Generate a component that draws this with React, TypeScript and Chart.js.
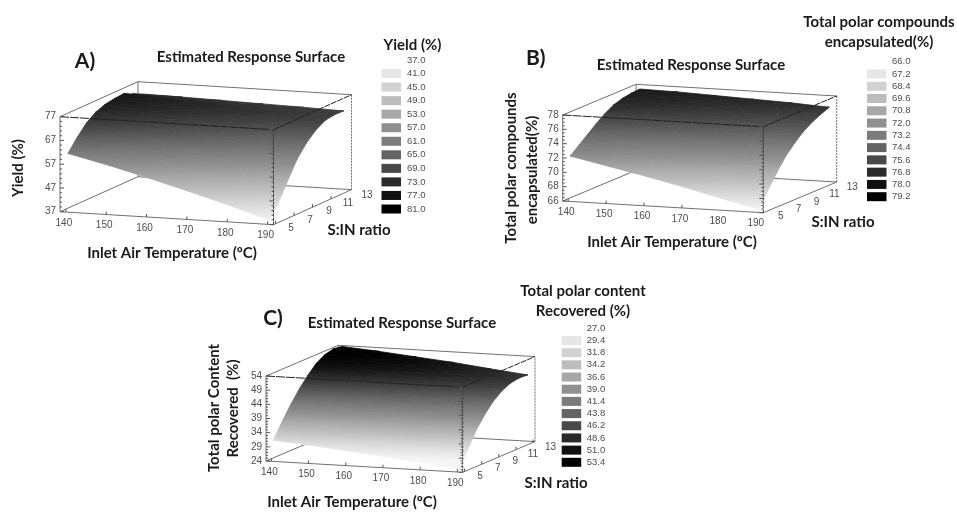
import React, { useEffect, useRef } from "react";
import { Chart, registerables } from "chart.js";

Chart.register(...registerables);

const TEMPS = [140, 150, 160, 170, 180, 190];
const RATIOS = [5, 6, 7, 8, 9, 10, 11, 12, 13];
const RATIO_TICKS = [5, 7, 9, 11, 13];

const YIELD_140 = [61.3, 66.3, 70.6, 73.4, 74.9, 75.6, 75.9, 74.1, 72.4];
const YIELD_150 = [57.4, 62.6, 67.4, 71.0, 73.0, 74.2, 74.9, 73.5, 72.1];
const YIELD_160 = [53.0, 58.5, 63.9, 68.2, 71.0, 72.7, 73.7, 72.8, 71.7];
const YIELD_170 = [48.4, 54.1, 60.2, 65.3, 68.8, 71.1, 72.5, 72.1, 71.3];
const YIELD_180 = [43.6, 49.5, 56.3, 62.3, 66.5, 69.4, 71.3, 71.3, 70.9];
const YIELD_190 = [38.3, 44.5, 52.0, 59.0, 64.0, 67.6, 69.9, 70.5, 70.4];
const YIELD_TICKS = [37, 47, 57, 67, 77];
const YIELD_LEGEND = ["37.0", "41.0", "45.0", "49.0", "53.0", "57.0", "61.0", "65.0", "69.0", "73.0", "77.0", "81.0"];

const ENC_140 = [72.2, 73.2, 74.2, 75.2, 76.1, 76.8, 77.2, 77.4, 77.5];
const ENC_150 = [71.1, 72.4, 73.5, 74.7, 75.6, 76.4, 76.9, 77.2, 77.4];
const ENC_160 = [70.0, 71.5, 72.8, 74.1, 75.1, 76.0, 76.5, 76.9, 77.2];
const ENC_170 = [68.8, 70.5, 72.1, 73.5, 74.6, 75.5, 76.2, 76.6, 77.0];
const ENC_180 = [67.5, 69.6, 71.3, 72.8, 74.0, 75.1, 75.8, 76.4, 76.8];
const ENC_190 = [66.3, 68.6, 70.5, 72.2, 73.5, 74.6, 75.4, 76.0, 76.5];
const ENC_TICKS = [66, 68, 70, 72, 74, 76, 78];
const ENC_LEGEND = ["66.0", "67.2", "68.4", "69.6", "70.8", "72.0", "73.2", "74.4", "75.6", "76.8", "78.0", "79.2"];

const REC_140 = [31.2, 36.2, 41.0, 45.2, 48.8, 51.8, 53.6, 54.4, 54.0];
const REC_150 = [30.1, 35.2, 40.2, 44.3, 47.9, 50.8, 52.5, 53.3, 53.0];
const REC_160 = [28.9, 34.1, 39.2, 43.4, 46.9, 49.7, 51.4, 52.1, 51.8];
const REC_170 = [27.6, 32.9, 38.2, 42.3, 45.9, 48.5, 50.1, 50.8, 50.6];
const REC_180 = [26.2, 31.6, 37.1, 41.3, 44.7, 47.3, 48.8, 49.4, 49.1];
const REC_190 = [24.8, 30.3, 36.0, 40.2, 43.6, 46.0, 47.4, 47.9, 47.7];
const REC_TICKS = [24, 29, 34, 39, 44, 49, 54];
const REC_LEGEND = ["27.0", "29.4", "31.8", "34.2", "36.6", "39.0", "41.4", "43.8", "46.2", "48.6", "51.0", "53.4"];

const SWATCH_GREYS = [230, 210, 188, 168, 144, 124, 100, 72, 42, 16, 0];

const T_BOX: [number, number] = [138.55, 191.45];
const R_BOX: [number, number] = [4.78, 13.22];

const BOLD = "Lato, 'Open Sans', sans-serif";
const PLAIN = "'Liberation Sans', Arial, sans-serif";

type Txt = { s: string; x: number; y: number; rot?: boolean; size?: number };
type Panel = {
  rows: number[][];
  zTicks: number[];
  zMinor: number;
  legend: string[];
  o: [number, number];
  u: [number, number];
  v: [number, number];
  h: number;
  legendX: number;
  swatchX: number;
  legendY: [number, number];
  texts: Txt[];
};

const PANELS: Panel[] = [
  {
    rows: [YIELD_140, YIELD_150, YIELD_160, YIELD_170, YIELD_180, YIELD_190],
    zTicks: YIELD_TICKS,
    zMinor: 2,
    legend: YIELD_LEGEND,
    o: [60, 211.7],
    u: [213.5, 13],
    v: [78, -35],
    h: 95,
    legendX: 407,
    swatchX: 381.5,
    legendY: [60, 209],
    texts: [
      { s: "A)", x: 85, y: 61, size: 21 },
      { s: "Estimated Response Surface", x: 251, y: 57 },
      { s: "Yield (%)", x: 412.5, y: 45 },
      { s: "Inlet Air Temperature (ºC)", x: 172, y: 253 },
      { s: "S:IN ratio", x: 359, y: 230 },
      { s: "Yield (%)", x: 18, y: 168, rot: true },
    ],
  },
  {
    rows: [ENC_140, ENC_150, ENC_160, ENC_170, ENC_180, ENC_190],
    zTicks: ENC_TICKS,
    zMinor: 0.5,
    legend: ENC_LEGEND,
    o: [562.7, 201],
    u: [200.6, 11.7],
    v: [73.4, -30.7],
    h: 86,
    legendX: 892,
    swatchX: 867,
    legendY: [61.7, 196.7],
    texts: [
      { s: "Total polar compounds", x: 879, y: 22 },
      { s: "encapsulated(%)", x: 879, y: 42 },
      { s: "B)", x: 535.7, y: 58, size: 21 },
      { s: "Estimated Response Surface", x: 691, y: 65 },
      { s: "Inlet Air Temperature (ºC)", x: 672, y: 242 },
      { s: "S:IN ratio", x: 843, y: 222 },
      { s: "Total polar compounds", x: 511, y: 168, rot: true },
      { s: "encapsulated(%)", x: 532, y: 170, rot: true },
    ],
  },
  {
    rows: [REC_140, REC_150, REC_160, REC_170, REC_180, REC_190],
    zTicks: REC_TICKS,
    zMinor: 1,
    legend: REC_LEGEND,
    o: [266, 461],
    u: [196.7, 11.3],
    v: [72.3, -30.7],
    h: 85,
    legendX: 586.7,
    swatchX: 561.7,
    legendY: [328.3, 462.3],
    texts: [
      { s: "Total polar content", x: 583, y: 291 },
      { s: "Recovered (%)", x: 583, y: 311 },
      { s: "C)", x: 273, y: 318, size: 21 },
      { s: "Estimated Response Surface", x: 402, y: 323 },
      { s: "Inlet Air Temperature (ºC)", x: 352, y: 502 },
      { s: "S:IN ratio", x: 556, y: 483 },
      { s: "Total polar Content", x: 214, y: 408, rot: true },
      { s: "Recovered  (%)", x: 233, y: 408.5, rot: true },
    ],
  },
];

const zBounds = (p: Panel): [number, number] => [p.zTicks[0], p.zTicks[p.zTicks.length - 1]];

function project(p: Panel, T: number, r: number, z: number) {
  const [z0, z1] = zBounds(p);
  const a = (T - T_BOX[0]) / (T_BOX[1] - T_BOX[0]);
  const f = (r - R_BOX[0]) / (R_BOX[1] - R_BOX[0]);
  const c = (z - z0) / (z1 - z0);
  return {
    x: p.o[0] + a * p.u[0] + f * p.v[0],
    y: p.o[1] + a * p.u[1] + f * p.v[1] - c * p.h,
  };
}

// Surface colour follows the legend's own grey steps.
const grey = (p: Panel, z: number) => {
  const lo = parseFloat(p.legend[0]);
  const hi = parseFloat(p.legend[p.legend.length - 1]);
  const levels = [246, ...SWATCH_GREYS];
  const s = Math.max(0, Math.min(levels.length - 1.001, ((z - lo) / (hi - lo)) * (levels.length - 1)));
  const k = Math.floor(s);
  const v = Math.round(levels[k] + (levels[k + 1] - levels[k]) * (s - k));
  return `rgb(${v},${v},${v})`;
};

function triangle(ctx: CanvasRenderingContext2D, p: Panel, pts: any[], zs: number[]) {
  const [a, b, c] = pts;
  const e1x = b.x - a.x, e1y = b.y - a.y, e2x = c.x - a.x, e2y = c.y - a.y;
  const d1 = zs[1] - zs[0], d2 = zs[2] - zs[0];
  const det = e1x * e2y - e1y * e2x;
  const gx = (d1 * e2y - e1y * d2) / det;
  const gy = (e1x * d2 - d1 * e2x) / det;
  const n = gx * gx + gy * gy || 1;
  const lo = Math.min(...zs) - 1;
  const hi = Math.max(...zs) + 1;
  const grad = ctx.createLinearGradient(
    a.x + (gx / n) * (lo - zs[0]),
    a.y + (gy / n) * (lo - zs[0]),
    a.x + (gx / n) * (hi - zs[0]),
    a.y + (gy / n) * (hi - zs[0])
  );
  for (let i = 0; i <= 6; i++) grad.addColorStop(i / 6, grey(p, lo + ((hi - lo) * i) / 6));
  return {
    data: [a, b, c, a],
    backgroundColor: grad,
    borderColor: grad,
    borderWidth: 0.8,
    pointRadius: 0,
    tension: 0,
    fill: "shape",
  };
}

function buildDatasets(ctx: CanvasRenderingContext2D) {
  const list: any[] = [];
  const addLine = (pts: any[], color: string, width = 1, dash: number[] = []) =>
    list.push({
      data: pts,
      borderColor: color,
      borderWidth: width,
      borderDash: dash,
      pointRadius: 0,
      fill: false,
      tension: 0,
      spanGaps: false,
    });

  for (const p of PANELS) {
    const [z0, z1] = zBounds(p);
    const [t0, t1] = T_BOX;
    const [r0, r1] = R_BOX;
    const P = (T: number, r: number, z: number) => project(p, T, r, z);
    const GREY = "#6f6f6f";

    // Box edges behind the surface
    addLine([P(t0, r1, z0), P(t1, r1, z0)], GREY);
    addLine([P(t0, r1, z0), P(t0, r0, z0)], GREY);
    addLine([P(t0, r1, z0), P(t0, r1, z1)], GREY);
    addLine([P(t0, r1, z1), P(t1, r1, z1)], GREY);
    addLine([P(t0, r1, z1), P(t0, r0, z1)], GREY);
    addLine([P(t1, r1, z0), P(t1, r1, z1)], GREY, 1, [2, 1]);
    addLine([P(t0, r0, z0), P(t1, r0, z0)], GREY);
    addLine([P(t1, r0, z0), P(t1, r1, z0)], GREY);

    // Surface, far ratios first
    for (let j = RATIOS.length - 2; j >= 0; j--) {
      for (let i = 0; i < TEMPS.length - 1; i++) {
        const za = p.rows[i][j];
        const zb = p.rows[i + 1][j];
        const zc = p.rows[i + 1][j + 1];
        const zd = p.rows[i][j + 1];
        const a = P(TEMPS[i], RATIOS[j], za);
        const b = P(TEMPS[i + 1], RATIOS[j], zb);
        const c = P(TEMPS[i + 1], RATIOS[j + 1], zc);
        const d = P(TEMPS[i], RATIOS[j + 1], zd);
        list.push(triangle(ctx, p, [a, c, d], [za, zc, zd]));
        list.push(triangle(ctx, p, [a, b, c], [za, zb, zc]));
      }
    }

    // Box edges over the surface
    addLine([P(t0, r0, z0), P(t0, r0, z1)], GREY);
    addLine([P(t1, r0, z0), P(t1, r0, z1)], "#3a3a3a", 1, [3, 1]);
    addLine([P(t0, r0, z1), P(t1, r0, z1)], "#222222", 1, [9, 1]);
    addLine([P(t1, r0, z1), P(t1, r1, z1)], "#222222", 1, [6, 1]);

    // Tick marks along the edges
    const minor: any[] = [];
    for (let z = z0; z <= z1 + 1e-6; z += p.zMinor) {
      const isMajor = p.zTicks.includes(Math.round(z * 10) / 10);
      const len = isMajor ? 4 : 2;
      const l = P(t0, r0, z);
      minor.push({ x: l.x, y: l.y }, { x: l.x + len, y: l.y }, { x: NaN, y: NaN });
      const q = P(t1, r0, z);
      minor.push({ x: q.x, y: q.y }, { x: q.x - len, y: q.y }, { x: NaN, y: NaN });
    }
    for (const T of TEMPS) {
      const q = P(T, r0, z0);
      minor.push({ x: q.x, y: q.y }, { x: q.x, y: q.y - 3 }, { x: NaN, y: NaN });
    }
    for (const r of RATIO_TICKS) {
      const q = P(t1, r, z0);
      minor.push({ x: q.x, y: q.y }, { x: q.x, y: q.y - 3 }, { x: NaN, y: NaN });
    }
    addLine(minor, "#555555");
  }
  list.forEach((d, i) => (d.order = -i));
  return list;
}

const labelsPlugin = {
  id: "panelLabels",
  afterDatasetsDraw(chart: any) {
    const ctx: CanvasRenderingContext2D = chart.ctx;
    ctx.save();
    ctx.textBaseline = "middle";
    for (const p of PANELS) {
      const [z0] = zBounds(p);
      ctx.fillStyle = "#4d4d4d";
      ctx.font = `10px ${PLAIN}`;
      ctx.textAlign = "center";
      for (const T of TEMPS) {
        const q = project(p, T, R_BOX[0], z0);
        ctx.fillText(String(T), q.x - 2, q.y + 11);
      }
      for (const r of RATIO_TICKS) {
        const q = project(p, T_BOX[1], r, z0);
        ctx.fillText(String(r), q.x + 15.5 + (r - 5) * 0.25, q.y + 4.5);
      }
      ctx.textAlign = "right";
      for (const z of p.zTicks) {
        const q = project(p, T_BOX[0], R_BOX[0], z);
        ctx.fillText(String(z), p.o[0] - 4, q.y);
      }
      // Legend
      const n = p.legend.length;
      const step = (p.legendY[1] - p.legendY[0]) / (n - 1);
      ctx.textAlign = "left";
      ctx.font = `9.5px ${PLAIN}`;
      p.legend.forEach((s, i) => {
        const y = p.legendY[0] + i * step;
        ctx.fillStyle = "#4d4d4d";
        ctx.fillText(s, p.legendX, y);
        if (i > 0) {
          const g = SWATCH_GREYS[i - 1];
          ctx.fillStyle = `rgb(${g},${g},${g})`;
          ctx.fillRect(p.swatchX, y - 4.5, 19.5, 9);
        }
      });
      // Titles
      ctx.fillStyle = "#1a1a1a";
      ctx.textAlign = "center";
      for (const t of p.texts) {
        ctx.font = `bold ${t.size ?? 15}px ${BOLD}`;
        if (t.rot) {
          ctx.save();
          ctx.translate(t.x, t.y);
          ctx.rotate(-Math.PI / 2);
          ctx.fillText(t.s, 0, 0);
          ctx.restore();
        } else {
          ctx.fillText(t.s, t.x, t.y);
        }
      }
    }
    ctx.restore();
  },
};

export default function App() {
  const ref = useRef<HTMLCanvasElement | null>(null);
  useEffect(() => {
    const canvas = ref.current!;
    const ctx = canvas.getContext("2d")!;
    const chart = new Chart(canvas, {
      type: "line",
      data: { datasets: buildDatasets(ctx) },
      options: {
        animation: false,
        responsive: false,
        parsing: false,
        events: [],
        layout: { padding: 0 },
        plugins: { legend: { display: false }, tooltip: { enabled: false } },
        scales: {
          x: { type: "linear", min: 0, max: 957, display: false },
          y: { type: "linear", min: 0, max: 512, reverse: true, display: false },
        },
      } as any,
      plugins: [labelsPlugin as any],
    });
    return () => chart.destroy();
  }, []);
  return (
    <div style={{ position: "absolute", left: 0, top: 0, width: 957, height: 512, background: "#fff" }}>
      <canvas ref={ref} width={957} height={512} style={{ display: "block", filter: "blur(0.45px)" }} />
    </div>
  );
}
